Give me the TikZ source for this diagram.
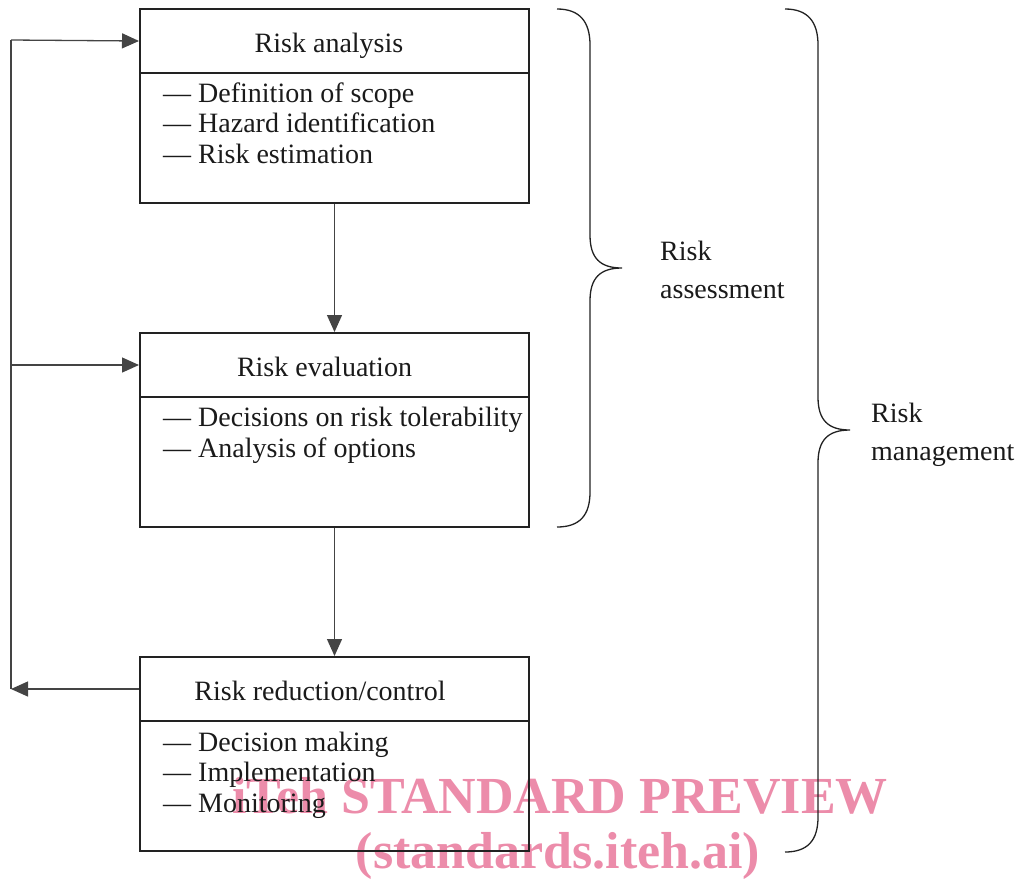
\documentclass[tikz,border=0pt]{standalone}
\usepackage{fontspec}
\setmainfont{Liberation Serif}
\usetikzlibrary{arrows.meta}
\definecolor{boxc}{HTML}{222222}
\definecolor{linec}{HTML}{444444}
\definecolor{txt}{HTML}{1A1A1A}
\definecolor{wmc}{RGB}{236,140,170}
\begin{document}
\begin{tikzpicture}[x=1pt,y=-1pt,
  every node/.style={font=\fontsize{28}{30}\selectfont, text=txt},
  hdr/.style={draw=boxc, line width=2pt, minimum width=389pt, minimum height=64pt, inner sep=0pt},
  bdy/.style={draw=boxc, line width=2pt, minimum width=389pt, minimum height=130pt, inner sep=0pt},
  lbl/.style={anchor=base west, inner sep=0pt},
  ttl/.style={anchor=base, inner sep=0pt},
  conn/.style={draw=linec, line width=1.3pt},
  arr/.style={conn, -{Triangle[length=17pt,width=15pt]}},
  brc/.style={draw=boxc, line width=1.3pt},
  wm/.style={font=\bfseries\fontsize{52}{54}\selectfont, text=wmc, inner sep=0pt, anchor=base}
]
\useasboundingbox (0,0) rectangle (1024,879);
% watermark (behind everything)
\node[wm] (wm1) at (560,813) {iTeh STANDARD PREVIEW};
\node[wm] (wm2) at (558,868) {(standards.iteh.ai)};
% boxes
\node[hdr] (rah) at (334.5,41) {};
\node[bdy] (rab) at (334.5,138) {};
\node[hdr] (reh) at (334.5,365) {};
\node[bdy] (reb) at (334.5,462) {};
\node[hdr] (rch) at (334.5,689) {};
\node[bdy] (rcb) at (334.5,786) {};
% titles
\node[ttl] (rat) at (329,52) {Risk analysis};
\node[ttl] (ret) at (324.5,376) {Risk evaluation};
\node[ttl] (rct) at (320,700) {Risk reduction/control};
% items
\node[lbl] (a1) at (163,102) {— Definition of scope};
\node[lbl] (a2) at (163,132) {— Hazard identification};
\node[lbl] (a3) at (163,163) {— Risk estimation};
\node[lbl] (e1) at (163,426) {— Decisions on risk tolerability};
\node[lbl] (e2) at (163,457) {— Analysis of options};
\node[lbl] (c1) at (163,751) {— Decision making};
\node[lbl] (c2) at (163,781) {— Implementation};
\node[lbl] (c3) at (163,812) {— Monitoring};
% connectors
\draw[arr] (rab.south) -- (reh.north);
\draw[arr] (reb.south) -- (rch.north);
\coordinate (fbb) at (11,689);
\coordinate (fbt) at (11,40);
\coordinate (fbm) at (11,365);
\draw[arr] (rch.west) -- (fbb);
\draw[conn] (fbb) -- (fbt);
\draw[arr] (fbt) -- (rah.west);
\draw[arr] (fbm) -- (reh.west);
% braces
\draw[brc] (557,9) .. controls (580,9) and (590,22) .. (590,45) -- (590,235) .. controls (590,258) and (600,268) .. (622,268) .. controls (600,268) and (590,278) .. (590,301) -- (590,492) .. controls (590,515) and (580,527) .. (557,527);
\draw[brc] (785,9) .. controls (808,9) and (818,22) .. (818,45) -- (818,397) .. controls (818,420) and (828,430) .. (850,430) .. controls (828,430) and (818,440) .. (818,463) -- (818,817) .. controls (818,840) and (808,852) .. (785,852);
\node[lbl] (ra1) at (660,260) {Risk};
\node[lbl] (ra2) at (660,298) {assessment};
\node[lbl] (rm1) at (871,422) {Risk};
\node[lbl] (rm2) at (871,460) {management};
\end{tikzpicture}
\end{document}
